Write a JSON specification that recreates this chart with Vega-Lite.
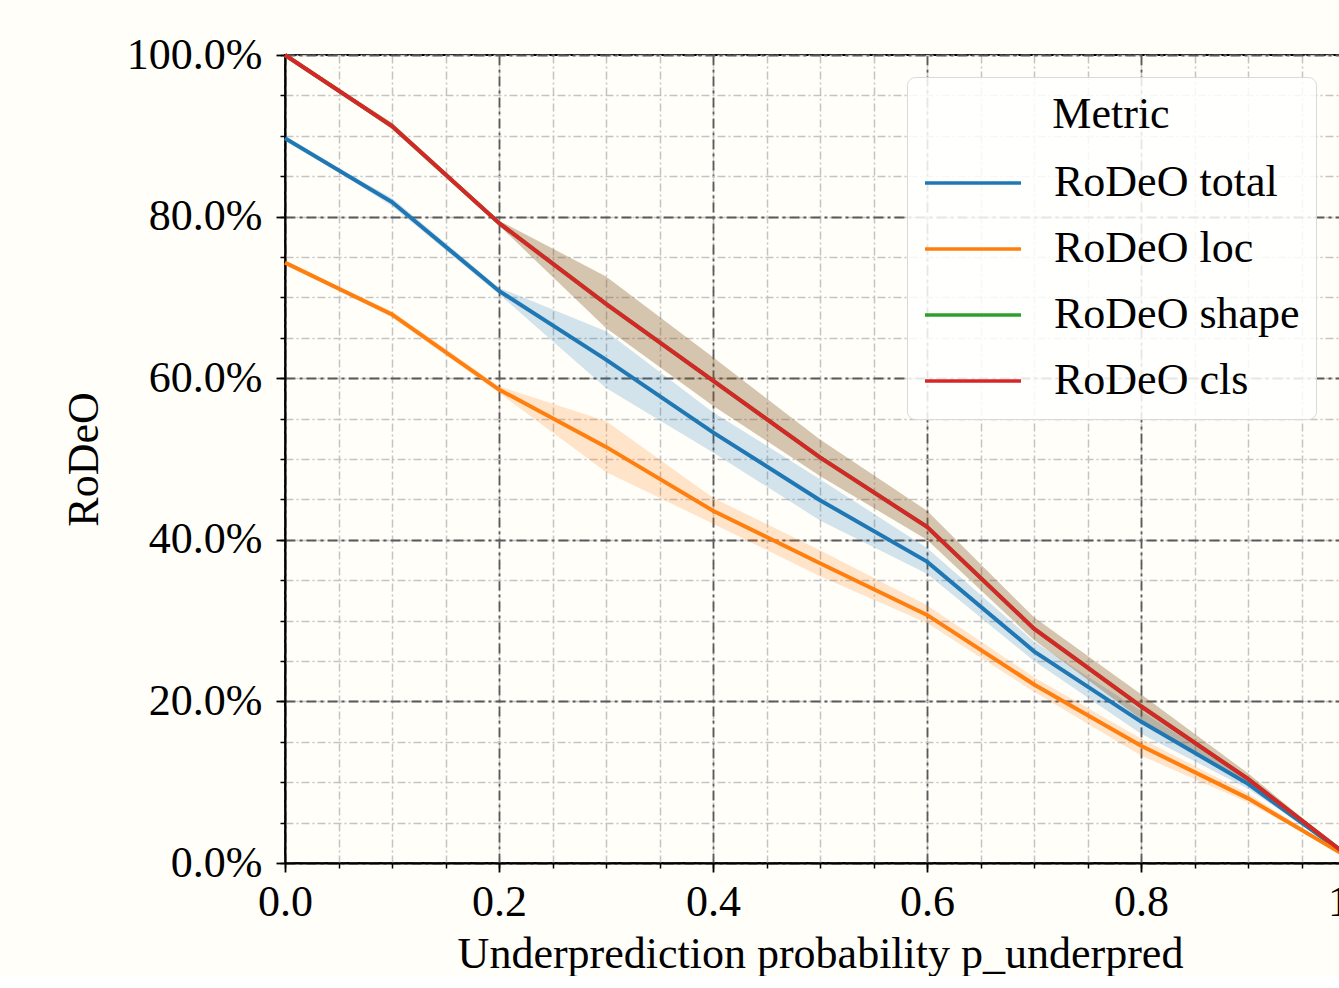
{
  "$schema": "https://vega.github.io/schema/vega-lite/v6.json",
  "width": 1070,
  "height": 808,
  "padding": {"left": 62, "top": 33, "right": 0, "bottom": 0},
  "background": "#fffef9",
  "config": {
    "font": "Liberation Serif",
    "view": {"stroke": "#000000", "strokeWidth": 2},
    "axis": {"labelFont": "Liberation Serif", "titleFont": "Liberation Serif", "labelColor": "#000000", "titleColor": "#000000", "titleFontWeight": "normal", "labelFlush": false}
  },
  "data": {
    "values": [
      {"x": 0.0, "metric": "RoDeO total", "mean": 89.7, "lo": 89.7, "hi": 89.7},
      {"x": 0.1, "metric": "RoDeO total", "mean": 81.8, "lo": 81.3, "hi": 82.3},
      {"x": 0.2, "metric": "RoDeO total", "mean": 70.8, "lo": 70.4, "hi": 71.2},
      {"x": 0.3, "metric": "RoDeO total", "mean": 62.3, "lo": 58.8, "hi": 65.8},
      {"x": 0.4, "metric": "RoDeO total", "mean": 53.3, "lo": 50.8, "hi": 55.8},
      {"x": 0.5, "metric": "RoDeO total", "mean": 44.9, "lo": 42.4, "hi": 47.5},
      {"x": 0.6, "metric": "RoDeO total", "mean": 37.3, "lo": 35.8, "hi": 39.0},
      {"x": 0.7, "metric": "RoDeO total", "mean": 26.2, "lo": 25.0, "hi": 27.4},
      {"x": 0.8, "metric": "RoDeO total", "mean": 17.5, "lo": 16.0, "hi": 18.8},
      {"x": 0.9, "metric": "RoDeO total", "mean": 9.8, "lo": 9.2, "hi": 10.4},
      {"x": 1.0, "metric": "RoDeO total", "mean": 0.2, "lo": 0.2, "hi": 0.2},
      {"x": 0.0, "metric": "RoDeO loc", "mean": 74.3, "lo": 74.3, "hi": 74.3},
      {"x": 0.1, "metric": "RoDeO loc", "mean": 67.9, "lo": 67.5, "hi": 68.3},
      {"x": 0.2, "metric": "RoDeO loc", "mean": 58.6, "lo": 58.2, "hi": 59.0},
      {"x": 0.3, "metric": "RoDeO loc", "mean": 51.5, "lo": 48.4, "hi": 54.7},
      {"x": 0.4, "metric": "RoDeO loc", "mean": 43.6, "lo": 42.0, "hi": 45.2},
      {"x": 0.5, "metric": "RoDeO loc", "mean": 37.1, "lo": 35.5, "hi": 38.7},
      {"x": 0.6, "metric": "RoDeO loc", "mean": 30.7, "lo": 29.7, "hi": 31.9},
      {"x": 0.7, "metric": "RoDeO loc", "mean": 22.1, "lo": 21.2, "hi": 23.0},
      {"x": 0.8, "metric": "RoDeO loc", "mean": 14.5, "lo": 13.3, "hi": 15.4},
      {"x": 0.9, "metric": "RoDeO loc", "mean": 8.0, "lo": 7.5, "hi": 8.6},
      {"x": 1.0, "metric": "RoDeO loc", "mean": 0.2, "lo": 0.2, "hi": 0.2},
      {"x": 0.0, "metric": "RoDeO shape", "mean": 100.0, "lo": 100.0, "hi": 100.0},
      {"x": 0.1, "metric": "RoDeO shape", "mean": 91.2, "lo": 90.8, "hi": 91.6},
      {"x": 0.2, "metric": "RoDeO shape", "mean": 79.2, "lo": 78.9, "hi": 79.5},
      {"x": 0.3, "metric": "RoDeO shape", "mean": 69.2, "lo": 66.2, "hi": 72.6},
      {"x": 0.4, "metric": "RoDeO shape", "mean": 59.7, "lo": 56.6, "hi": 62.6},
      {"x": 0.5, "metric": "RoDeO shape", "mean": 50.2, "lo": 47.9, "hi": 52.4},
      {"x": 0.6, "metric": "RoDeO shape", "mean": 41.6, "lo": 40.0, "hi": 43.6},
      {"x": 0.7, "metric": "RoDeO shape", "mean": 29.0, "lo": 27.6, "hi": 30.4},
      {"x": 0.8, "metric": "RoDeO shape", "mean": 19.4, "lo": 17.8, "hi": 20.9},
      {"x": 0.9, "metric": "RoDeO shape", "mean": 10.4, "lo": 9.7, "hi": 11.1},
      {"x": 1.0, "metric": "RoDeO shape", "mean": 0.2, "lo": 0.2, "hi": 0.2},
      {"x": 0.0, "metric": "RoDeO cls", "mean": 100.0, "lo": 100.0, "hi": 100.0},
      {"x": 0.1, "metric": "RoDeO cls", "mean": 91.2, "lo": 90.8, "hi": 91.6},
      {"x": 0.2, "metric": "RoDeO cls", "mean": 79.2, "lo": 78.9, "hi": 79.5},
      {"x": 0.3, "metric": "RoDeO cls", "mean": 69.2, "lo": 66.2, "hi": 72.6},
      {"x": 0.4, "metric": "RoDeO cls", "mean": 59.7, "lo": 56.6, "hi": 62.6},
      {"x": 0.5, "metric": "RoDeO cls", "mean": 50.2, "lo": 47.9, "hi": 52.4},
      {"x": 0.6, "metric": "RoDeO cls", "mean": 41.6, "lo": 40.0, "hi": 43.6},
      {"x": 0.7, "metric": "RoDeO cls", "mean": 29.0, "lo": 27.6, "hi": 30.4},
      {"x": 0.8, "metric": "RoDeO cls", "mean": 19.4, "lo": 17.8, "hi": 20.9},
      {"x": 0.9, "metric": "RoDeO cls", "mean": 10.4, "lo": 9.7, "hi": 11.1},
      {"x": 1.0, "metric": "RoDeO cls", "mean": 0.2, "lo": 0.2, "hi": 0.2}
    ]
  },
  "transform": [
    {"calculate": "datum.mean / 100", "as": "m"},
    {"calculate": "datum.lo / 100", "as": "l"},
    {"calculate": "datum.hi / 100", "as": "h"}
  ],
  "resolve": {"axis": {"x": "independent", "y": "independent"}},
  "layer": [
    {
      "mark": {"type": "area", "opacity": 0.2},
      "encoding": {
        "x": {
          "field": "x", "type": "quantitative",
          "scale": {"domain": [0, 1], "nice": false, "zero": false},
          "axis": {
            "orient": "bottom", "values": [0, 0.05, 0.1, 0.15, 0.2, 0.25, 0.3, 0.35, 0.4, 0.45, 0.5, 0.55, 0.6, 0.65, 0.7, 0.75, 0.8, 0.85, 0.9, 0.95, 1.0],
            "labels": false, "title": null, "domain": false,
            "grid": true, "gridColor": "#c4c4c4", "gridDash": [8, 3, 2, 3], "gridWidth": 1.5,
            "ticks": true, "tickSize": 5, "tickColor": "#000000", "tickWidth": 1.5
          }
        },
        "y": {
          "field": "l", "type": "quantitative",
          "scale": {"domain": [0, 1], "nice": false},
          "axis": {
            "orient": "left", "values": [0, 0.05, 0.1, 0.15, 0.2, 0.25, 0.3, 0.35, 0.4, 0.45, 0.5, 0.55, 0.6, 0.65, 0.7, 0.75, 0.8, 0.85, 0.9, 0.95, 1.0],
            "labels": false, "title": null, "domain": false,
            "grid": true, "gridColor": "#c4c4c4", "gridDash": [8, 3, 2, 3], "gridWidth": 1.5,
            "ticks": true, "tickSize": 5, "tickColor": "#000000", "tickWidth": 1.5
          }
        },
        "y2": {"field": "h"},
        "color": {
          "field": "metric", "type": "nominal",
          "scale": {"domain": ["RoDeO total", "RoDeO loc", "RoDeO shape", "RoDeO cls"], "range": ["#1f77b4", "#ff7f0e", "#2ca02c", "#d62728"]}
        },
        "detail": {"field": "metric"}
      }
    },
    {
      "mark": {"type": "line", "strokeWidth": 4},
      "encoding": {
        "x": {
          "field": "x", "type": "quantitative",
          "axis": {
            "orient": "bottom", "values": [0, 0.2, 0.4, 0.6, 0.8, 1.0], "format": ".1f",
            "labelFontSize": 44, "labelPadding": 8,
            "title": "Underprediction probability p_underpred", "titleFontSize": 44, "titlePadding": 8,
            "domain": true, "domainColor": "#000000", "domainWidth": 2,
            "grid": true, "gridColor": "#5a5a5a", "gridDash": [10, 4, 3, 4], "gridWidth": 1.8,
            "ticks": true, "tickSize": 9, "tickColor": "#000000", "tickWidth": 1.8
          }
        },
        "y": {
          "field": "m", "type": "quantitative",
          "axis": {
            "orient": "left", "values": [0, 0.2, 0.4, 0.6, 0.8, 1.0], "format": ".1%",
            "labelFontSize": 44, "labelPadding": 14,
            "title": "RoDeO", "titleFontSize": 44, "titlePadding": 20,
            "domain": true, "domainColor": "#000000", "domainWidth": 2,
            "grid": true, "gridColor": "#5a5a5a", "gridDash": [10, 4, 3, 4], "gridWidth": 1.8,
            "ticks": true, "tickSize": 9, "tickColor": "#000000", "tickWidth": 1.8
          }
        },
        "color": {
          "field": "metric", "type": "nominal",
          "legend": {
            "orient": "none", "legendX": 622, "legendY": 22,
            "title": "Metric", "titleFontSize": 44, "titleFont": "Liberation Serif", "titleFontWeight": "normal", "titleAnchor": "middle", "titleColor": "#000000", "titlePadding": 20,
            "labelFontSize": 44, "labelFont": "Liberation Serif", "labelColor": "#000000", "labelOffset": 79, "labelLimit": 0,
            "symbolType": "M-1,0H3", "symbolSize": 2304, "symbolStrokeWidth": 3.5,
            "rowPadding": 18, "padding": 16,
            "fillColor": "rgba(255,255,255,0.85)", "strokeColor": "#d9d9d9", "cornerRadius": 8,
            "encode": {"symbols": {"update": {"fill": {"value": "transparent"}, "opacity": {"value": 1}, "strokeWidth": {"value": 3.5}}}}
          }
        }
      }
    }
  ]
}
